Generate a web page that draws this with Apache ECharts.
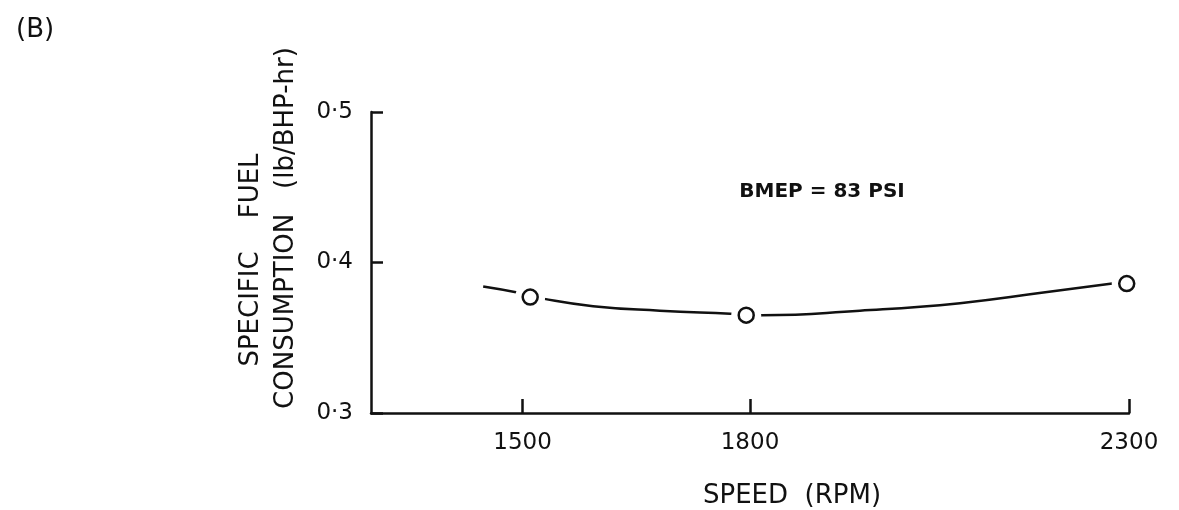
<!DOCTYPE html>
<html>
<head>
<meta charset="utf-8">
<script src="https://cdn.jsdelivr.net/npm/echarts@6/dist/echarts.min.js"></script>
<style>
  html, body { margin: 0; padding: 0; background: #fff; }
  #chart { width: 1179px; height: 510px; }
</style>
</head>
<body>
<div id="chart"></div>
<script>
// measured points (rpm, lb/BHP-hr)
const pointSpeeds = [1510, 1795, 2297];
const pointSfc = [0.377, 0.365, 0.386];

// faired curve drawn through the points
const curveSpeeds = [1448, 1493, 1527, 1593, 1681, 1774, 1816, 1945, 2077, 2187, 2278];
const curveSfc = [0.384, 0.380, 0.376, 0.371, 0.368, 0.366, 0.365, 0.368, 0.373, 0.380, 0.386];

const speedTicks = [1500, 1800, 2300];
const sfcTicks = [0.3, 0.4, 0.5];

const ink = '#111';
const font = 'DejaVu Sans';

const pointData = pointSpeeds.map((s, i) => [s, pointSfc[i]]);
const curveData = curveSpeeds.map((s, i) => [s, curveSfc[i]]);

const chart = echarts.init(document.getElementById('chart'));
chart.setOption({
    animation: false,
    backgroundColor: '#fff',
    title: {
        text: '(B)', left: 11, top: 12,
        textStyle: { fontFamily: font, fontSize: 26, fontWeight: 'normal', color: ink }
    },
    grid: { left: 371, right: 50, top: 112, bottom: 97, containLabel: false, outerBoundsMode: 'none' },
    xAxis: {
        type: 'value', min: 1300, max: 2300,
        name: 'SPEED  (RPM)', nameLocation: 'middle', nameGap: 70,
        nameTextStyle: { fontFamily: font, fontSize: 26, color: ink, padding: [0, 0, 0, 84] },
        axisLine: { show: true, onZero: false, lineStyle: { color: ink, width: 2.5 } },
        axisTick: { show: true, inside: true, length: 14, customValues: speedTicks, lineStyle: { color: ink, width: 2.5 } },
        axisLabel: {
            customValues: speedTicks, margin: 19, fontFamily: font, fontSize: 23, color: ink,
            formatter: v => String(v)
        },
        splitLine: { show: false }
    },
    yAxis: {
        type: 'value', min: 0.3, max: 0.5, interval: 0.1,
        axisLine: { show: true, lineStyle: { color: ink, width: 2.5 } },
        axisTick: { show: true, inside: true, length: 12, customValues: sfcTicks, lineStyle: { color: ink, width: 2.5 } },
        axisLabel: {
            customValues: sfcTicks, margin: 18, fontFamily: font, fontSize: 23, color: ink,
            formatter: v => v.toFixed(1).replace('.', '·')
        },
        splitLine: { show: false }
    },
    graphic: [
        {
            type: 'text', x: 251, y: 260, rotation: Math.PI / 2,
            style: { text: 'SPECIFIC    FUEL', align: 'center', verticalAlign: 'middle', font: '26px "DejaVu Sans"', fill: ink }
        },
        {
            type: 'text', x: 286, y: 228, rotation: Math.PI / 2,
            style: { text: 'CONSUMPTION   (lb/BHP-hr)', align: 'center', verticalAlign: 'middle', font: '26px "DejaVu Sans"', fill: ink }
        },
        {
            type: 'text', x: 822, y: 192,
            style: { text: 'BMEP = 83 PSI', align: 'center', verticalAlign: 'middle', font: 'bold 20px "DejaVu Sans"', fill: ink }
        }
    ],
    series: [
        {
            type: 'line', data: curveData, smooth: 0.5, showSymbol: false, z: 2,
            lineStyle: { color: ink, width: 2.5 }, silent: true
        },
        {
            type: 'scatter', data: pointData, symbol: 'circle', symbolSize: 30, z: 3,
            itemStyle: { color: '#fff', opacity: 1 }, silent: true
        },
        {
            type: 'scatter', data: pointData, symbol: 'circle', symbolSize: 15, z: 4,
            itemStyle: { color: '#fff', borderColor: ink, borderWidth: 2.5, opacity: 1 }, silent: true
        }
    ]
});
</script>
</body>
</html>
